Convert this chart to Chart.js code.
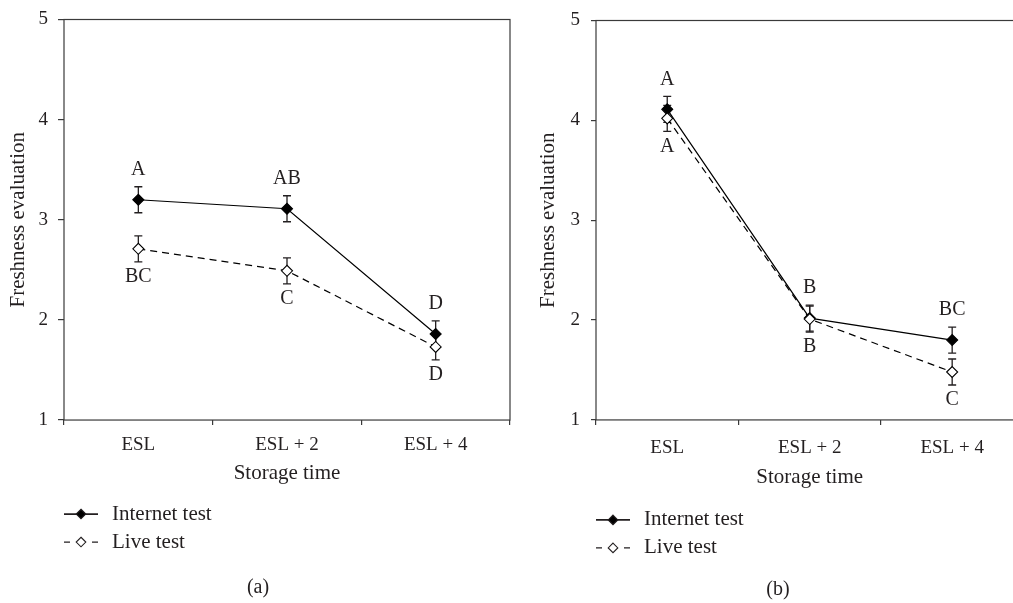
<!DOCTYPE html>
<html>
<head>
<meta charset="utf-8">
<script src="https://cdn.jsdelivr.net/npm/chart.js@4.4.1/dist/chart.umd.min.js"></script>
<style>
    html, body { margin: 0; padding: 0; background: #fff; overflow: hidden; }
    body { width: 1013px; height: 603px; position: relative; }
    #chartA { position: absolute; left: 0; top: 0; }
    #chartB { position: absolute; left: 530px; top: 0; }
</style>
</head>
<body>
<canvas id="chartA" width="530" height="603"></canvas>
<canvas id="chartB" width="500" height="603"></canvas>
<script>
// Categories and y ticks shared by both panels
const storageTimes = ['ESL', 'ESL + 2', 'ESL + 4'];
const yTicks = [1, 2, 3, 4, 5];

// Panel (a)
const internetA = [3.20, 3.11, 1.86];
const internetErrA = [0.13, 0.13, 0.13];
const internetLettersA = ['A', 'AB', 'D'];
const liveA = [2.71, 2.49, 1.73];
const liveErrA = [0.13, 0.13, 0.13];
const liveLettersA = ['BC', 'C', 'D'];

// Panel (b)
const internetB = [4.11, 2.02, 1.80];
const internetErrB = [0.13, 0.13, 0.13];
const internetLettersB = ['A', 'B', 'BC'];
const liveB = [4.02, 2.01, 1.48];
const liveErrB = [0.13, 0.13, 0.13];
const liveLettersB = ['A', 'B', 'C'];

const INK = '#231f20';
const FRAME = '#3a3a3a';
const FONT = "'Liberation Serif', 'Times New Roman', serif";

// Frame, error bars and significance letters
const errorBars = {
    id: 'errorBars',
    beforeDatasetsDraw(chart) {
        const { ctx, chartArea: a, scales: { x, y } } = chart;
        ctx.save();
        ctx.strokeStyle = FRAME;
        ctx.lineWidth = 1.2;
        ctx.strokeRect(a.left, a.top, a.right - a.left, a.bottom - a.top);

        ctx.strokeStyle = INK;
        ctx.lineWidth = 1.3;
        chart.data.datasets.forEach(ds => {
            ds.data.forEach((v, i) => {
                const px = x.getPixelForValue(i);
                const top = y.getPixelForValue(v + ds.errors[i]);
                const bot = y.getPixelForValue(v - ds.errors[i]);
                ctx.beginPath();
                ctx.moveTo(px, top); ctx.lineTo(px, bot);
                ctx.moveTo(px - 4, top); ctx.lineTo(px + 4, top);
                ctx.moveTo(px - 4, bot); ctx.lineTo(px + 4, bot);
                ctx.stroke();
            });
        });
        ctx.restore();
    },
    afterDatasetsDraw(chart) {
        const { ctx, scales: { x, y } } = chart;
        ctx.save();
        ctx.fillStyle = INK;
        ctx.font = '20px ' + FONT;
        ctx.textAlign = 'center';
        ctx.textBaseline = 'middle';
        chart.data.datasets.forEach(ds => {
            ds.letters.forEach((txt, i) => {
                const px = x.getPixelForValue(i);
                let py;
                if (ds.letterSide === 'above') {
                    py = y.getPixelForValue(ds.data[i] + ds.errors[i]) - 17;
                } else {
                    py = y.getPixelForValue(ds.data[i] - ds.errors[i]) + 15;
                }
                ctx.fillText(txt, px, py);
            });
        });
        ctx.restore();
    }
};

// Legend below the axis title and the panel caption
const panelNotes = {
    id: 'panelNotes',
    afterDraw(chart, args, opts) {
        const { ctx, chartArea: a } = chart;
        const lx = a.left;
        ctx.save();
        ctx.font = '21px ' + FONT;
        ctx.fillStyle = INK;
        ctx.textBaseline = 'middle';
        chart.data.datasets.slice().sort((p, q) => p.legendRank - q.legendRank).forEach((ds, k) => {
            const ly = a.bottom + opts.legendTop + k * 28;
            const cx = lx + 17;
            ctx.strokeStyle = INK;
            ctx.beginPath();
            if (ds.borderDash) {
                ctx.lineWidth = 1.3;
                ctx.moveTo(lx, ly); ctx.lineTo(lx + 6, ly);
                ctx.moveTo(lx + 28, ly); ctx.lineTo(lx + 34, ly);
            } else {
                ctx.lineWidth = 1.7;
                ctx.moveTo(lx, ly); ctx.lineTo(lx + 34, ly);
            }
            ctx.stroke();
            const r = 4.8;
            ctx.beginPath();
            ctx.moveTo(cx, ly - r); ctx.lineTo(cx + r, ly);
            ctx.lineTo(cx, ly + r); ctx.lineTo(cx - r, ly);
            ctx.closePath();
            ctx.fillStyle = ds.pointBackgroundColor;
            ctx.fill();
            ctx.lineWidth = 1.1;
            ctx.stroke();
            ctx.fillStyle = INK;
            ctx.textAlign = 'left';
            ctx.fillText(ds.label, lx + 48, ly);
        });
        ctx.font = '20px ' + FONT;
        ctx.textAlign = 'center';
        ctx.fillText(opts.caption, opts.captionX, opts.captionY);
        ctx.restore();
    }
};

function buildPanel(id, p) {
    const ctx = document.getElementById(id).getContext('2d');
    return new Chart(ctx, {
        type: 'line',
        data: {
            labels: storageTimes,
            datasets: [{
                label: 'Live test',
                data: p.live,
                errors: p.liveErr,
                letters: p.liveLetters,
                letterSide: 'below',
                legendRank: 1,
                order: 0,
                borderColor: '#000',
                borderWidth: 1.2,
                borderDash: [7, 5],
                pointStyle: 'rectRot',
                pointRadius: 5.5,
                pointBorderWidth: 1.1,
                pointBackgroundColor: '#fff',
                pointBorderColor: '#000',
                tension: 0
            }, {
                label: 'Internet test',
                data: p.internet,
                errors: p.internetErr,
                letters: p.internetLetters,
                letterSide: 'above',
                legendRank: 0,
                order: 1,
                borderColor: '#000',
                borderWidth: 1.2,
                pointStyle: 'rectRot',
                pointRadius: 5.5,
                pointBorderWidth: 1.1,
                pointBackgroundColor: '#000',
                pointBorderColor: '#000',
                tension: 0
            }]
        },
        options: {
            responsive: false,
            animation: false,
            layout: { padding: { left: 0, top: p.padTop, right: p.padRight, bottom: p.padBottom } },
            plugins: {
                legend: { display: false },
                tooltip: { enabled: false },
                panelNotes: { caption: p.caption, captionX: p.captionX, captionY: p.captionY, legendTop: p.legendTop }
            },
            scales: {
                x: {
                    offset: true,
                    grid: { display: true, offset: true, drawOnChartArea: false, drawTicks: true, tickLength: 5, color: FRAME, lineWidth: 1.2 },
                    border: { display: false },
                    ticks: { color: INK, padding: p.xTickPad, font: { family: FONT, size: 19, lineHeight: 1 } },
                    title: { display: true, text: 'Storage time', color: INK, padding: 0, font: { family: FONT, size: 21, lineHeight: p.xTitleLH } }
                },
                y: {
                    min: 1,
                    max: 5,
                    afterBuildTicks: s => { s.ticks = yTicks.map(v => ({ value: v })); },
                    afterFit: s => { s.width = p.yWidth; },
                    grid: { display: true, drawOnChartArea: false, drawTicks: true, tickLength: p.yTickLen, color: FRAME, lineWidth: 1.2 },
                    border: { display: false },
                    ticks: { color: INK, padding: p.yTickPad, font: { family: FONT, size: 19, lineHeight: 1 } },
                    title: { display: true, text: 'Freshness evaluation', color: INK, padding: { top: 10, bottom: 0 }, font: { family: FONT, size: 21, lineHeight: 0.8 } }
                }
            }
        },
        plugins: [errorBars, panelNotes]
    });
}

buildPanel('chartA', {
    internet: internetA, internetErr: internetErrA, internetLetters: internetLettersA,
    live: liveA, liveErr: liveErrA, liveLetters: liveLettersA,
    padTop: 14, padRight: 20, padBottom: 122, yWidth: 64, yTickLen: 6, yTickPad: 10,
    xTickPad: 10.5, xTitleLH: 0.76, legendTop: 94, caption: '(a)', captionX: 258, captionY: 588
});

buildPanel('chartB', {
    internet: internetB, internetErr: internetErrB, internetLetters: internetLettersB,
    live: liveB, liveErr: liveErrB, liveLetters: liveLettersB,
    padTop: 20, padRight: 6, padBottom: 118, yWidth: 66, yTickLen: 5, yTickPad: 11,
    xTickPad: 13.5, xTitleLH: 0.67, legendTop: 100, caption: '(b)', captionX: 248, captionY: 590
});
</script>
</body>
</html>
